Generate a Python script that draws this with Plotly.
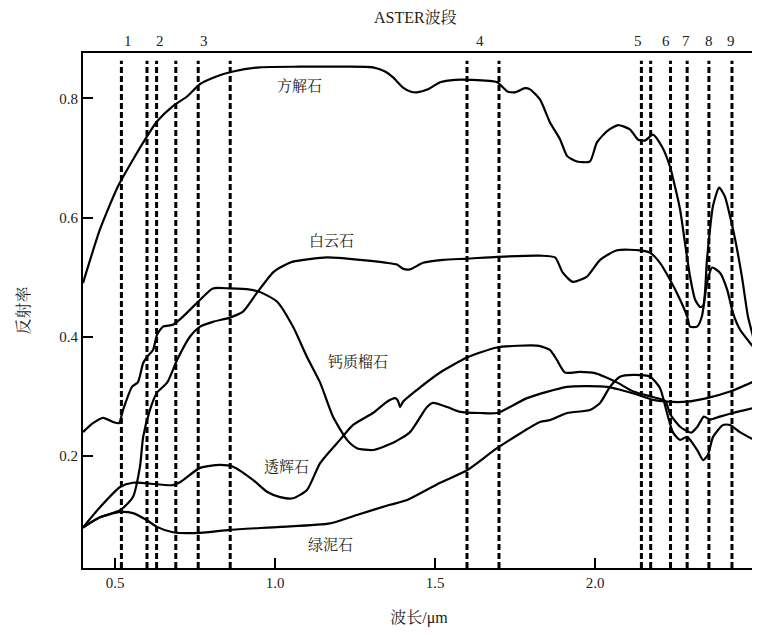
import plotly.graph_objects as go

# ---- data ----
calcite_x = [0.40, 0.453, 0.509, 0.556, 0.600, 0.631, 0.681, 0.725, 0.766, 0.819, 0.869, 0.953,
             1.078, 1.203, 1.306, 1.344, 1.369, 1.40, 1.425, 1.444, 1.478, 1.516, 1.563, 1.609,
             1.694, 1.725, 1.75, 1.781, 1.797, 1.828, 1.859, 1.891, 1.913, 1.944, 1.984, 2.006,
             2.038, 2.072, 2.109, 2.134, 2.156, 2.181, 2.209, 2.234, 2.25, 2.266, 2.281, 2.297,
             2.313, 2.328, 2.338, 2.35, 2.369, 2.388, 2.406, 2.422, 2.438, 2.459, 2.478, 2.494, 2.5]
calcite_y = [0.49, 0.58, 0.652, 0.697, 0.736, 0.761, 0.787, 0.803, 0.824, 0.837, 0.845, 0.852,
             0.853, 0.853, 0.852, 0.845, 0.835, 0.818, 0.811, 0.810, 0.815, 0.827, 0.831, 0.831,
             0.827, 0.812, 0.810, 0.817, 0.815, 0.798, 0.760, 0.731, 0.703, 0.694, 0.694, 0.726,
             0.745, 0.755, 0.748, 0.731, 0.729, 0.739, 0.719, 0.686, 0.652, 0.613, 0.558, 0.501,
             0.462, 0.450, 0.452, 0.530, 0.620, 0.650, 0.635, 0.602, 0.563, 0.501, 0.434, 0.40, 0.385]

dolomite_x = [0.40, 0.453, 0.516, 0.556, 0.578, 0.588, 0.609, 0.631, 0.663, 0.694, 0.734, 0.766,
              0.806, 0.859, 0.90, 0.944, 0.994, 1.016, 1.056, 1.163, 1.266, 1.35, 1.381, 1.40,
              1.422, 1.463, 1.525, 1.60, 1.694, 1.828, 1.875, 1.90, 1.931, 1.975, 2.016, 2.069,
              2.141, 2.172, 2.203, 2.234, 2.266, 2.288, 2.297, 2.319, 2.334, 2.35, 2.366, 2.391,
              2.413, 2.431, 2.453, 2.484, 2.5]
dolomite_y = [0.08, 0.097, 0.109, 0.131, 0.182, 0.232, 0.277, 0.306, 0.323, 0.361, 0.40, 0.417,
              0.425, 0.432, 0.442, 0.474, 0.508, 0.516, 0.526, 0.533, 0.529, 0.524, 0.521, 0.514,
              0.513, 0.524, 0.529, 0.531, 0.534, 0.536, 0.533, 0.507, 0.492, 0.501, 0.529, 0.545,
              0.545, 0.541, 0.524, 0.496, 0.462, 0.434, 0.417, 0.417, 0.434, 0.49, 0.516, 0.507,
              0.479, 0.44, 0.412, 0.39, 0.38]

garnet_x = [0.40, 0.431, 0.463, 0.494, 0.5125, 0.525, 0.553, 0.572, 0.588, 0.60, 0.619, 0.631,
            0.65, 0.681, 0.703, 0.734, 0.766, 0.806, 0.859, 0.922, 0.953, 1.006, 1.056, 1.10,
            1.141, 1.181, 1.225, 1.256, 1.306, 1.369, 1.422, 1.475, 1.494, 1.538, 1.578, 1.641,
            1.694, 1.788, 1.913, 2.038, 2.078, 2.131, 2.181, 2.225, 2.288, 2.35, 2.422, 2.5]
garnet_y = [0.240, 0.255, 0.264, 0.257, 0.255, 0.277, 0.316, 0.324, 0.356, 0.366, 0.378, 0.403,
            0.417, 0.420, 0.429, 0.445, 0.462, 0.481, 0.481, 0.479, 0.475, 0.459, 0.417, 0.366,
            0.323, 0.266, 0.227, 0.213, 0.210, 0.222, 0.240, 0.282, 0.289, 0.282, 0.274, 0.272,
            0.272, 0.297, 0.316, 0.316, 0.311, 0.303, 0.294, 0.291, 0.291, 0.297, 0.308, 0.326]

diopside_x = [0.40, 0.453, 0.516, 0.556, 0.681, 0.703, 0.766, 0.828, 0.869, 0.931, 0.975, 1.016,
              1.056, 1.10, 1.141, 1.203, 1.244, 1.306, 1.35, 1.375, 1.384, 1.391, 1.40, 1.444,
              1.516, 1.60, 1.694, 1.819, 1.859, 1.881, 1.906, 1.953, 2.0, 2.03, 2.07, 2.12, 2.18,
              2.22, 2.235, 2.266, 2.30, 2.32, 2.34, 2.36, 2.39, 2.43, 2.5]
diopside_y = [0.08, 0.114, 0.148, 0.155, 0.151, 0.156, 0.180, 0.185, 0.182, 0.160, 0.140, 0.131,
              0.129, 0.143, 0.188, 0.227, 0.252, 0.272, 0.291, 0.297, 0.293, 0.282, 0.291, 0.311,
              0.340, 0.365, 0.382, 0.385, 0.378, 0.361, 0.340, 0.341, 0.339, 0.333, 0.323, 0.308,
              0.299, 0.292, 0.270, 0.249, 0.239, 0.249, 0.266, 0.261, 0.266, 0.272, 0.281]

chlorite_x = [0.40, 0.453, 0.516, 0.556, 0.60, 0.631, 0.681, 0.766, 0.859, 1.016, 1.172, 1.256,
              1.359, 1.413, 1.516, 1.60, 1.694, 1.828, 1.859, 1.913, 1.984, 2.016, 2.047, 2.078,
              2.119, 2.172, 2.203, 2.225, 2.244, 2.266, 2.288, 2.319, 2.338, 2.353, 2.369, 2.40,
              2.422, 2.453, 2.5]
chlorite_y = [0.08, 0.097, 0.106, 0.104, 0.092, 0.081, 0.072, 0.071, 0.076, 0.081, 0.087, 0.101,
              0.118, 0.126, 0.155, 0.176, 0.213, 0.257, 0.260, 0.272, 0.277, 0.289, 0.316, 0.333,
              0.336, 0.333, 0.314, 0.272, 0.239, 0.227, 0.232, 0.210, 0.193, 0.202, 0.232, 0.252,
              0.252, 0.240, 0.226]

band_edges = [0.52, 0.60, 0.63, 0.69, 0.76, 0.86, 1.60, 1.70, 2.145, 2.174, 2.236, 2.288, 2.356, 2.428]
band_labels = ["1", "2", "3", "4", "5", "6", "7", "8", "9"]
band_label_x = [0.541, 0.641, 0.778, 1.64, 2.134, 2.222, 2.284, 2.356, 2.425]

curves = [
    ("方解石", calcite_x, calcite_y, 1.078, 0.82),
    ("白云石", dolomite_x, dolomite_y, 1.178, 0.56),
    ("钙质榴石", garnet_x, garnet_y, 1.26, 0.358),
    ("透辉石", diopside_x, diopside_y, 1.037, 0.182),
    ("绿泥石", chlorite_x, chlorite_y, 1.172, 0.05),
]

FONT = "Liberation Serif, Noto Serif CJK SC, Noto Sans CJK SC, serif"

fig = go.Figure()

for name, xs, ys, lx, ly in curves:
    fig.add_trace(go.Scatter(x=xs, y=ys, mode="lines", name=name,
                             line=dict(color="black", width=2.2, shape="spline", smoothing=0.6),
                             showlegend=False, hoverinfo="skip"))
    fig.add_annotation(x=lx, y=ly, text=name, showarrow=False,
                       font=dict(family=FONT, size=15, color="#222"))

for bx in band_edges:
    fig.add_shape(type="line", xref="x", yref="paper", x0=bx, x1=bx, y0=0, y1=0.985,
                  line=dict(color="black", width=3, dash="6px,3px"))

for lab, lx in zip(band_labels, band_label_x):
    fig.add_annotation(x=lx, y=1.0, xref="x", yref="paper", yanchor="bottom", yshift=2,
                       text=lab, showarrow=False,
                       font=dict(family=FONT, size=15, color="#222"))

fig.add_annotation(x=(415 - 83) / 672, y=1.0, xref="paper", yref="paper", yanchor="bottom", yshift=25,
                   text="ASTER波段", showarrow=False,
                   font=dict(family=FONT, size=16, color="#222"))

fig.update_layout(
    width=752, height=628,
    margin=dict(l=75, r=5, t=45, b=68, autoexpand=False),
    paper_bgcolor="white", plot_bgcolor="white",
    font=dict(family=FONT, size=15, color="#222"),
)
fig.update_xaxes(range=[0.4, 2.5], tickvals=[0.5, 1.0, 1.5, 2.0, 2.5],
                 ticktext=["0.5", "1.0", "1.5", "2.0", "2.5"],
                 ticks="inside", ticklen=10, tickwidth=2, tickcolor="black",
                 showline=True, linecolor="black", linewidth=2, mirror=True,
                 showgrid=False, zeroline=False, automargin=False,
                 title=dict(text="波长/μm", standoff=22, font=dict(size=16)))
fig.update_yaxes(range=[0.012, 0.876], tickvals=[0.2, 0.4, 0.6, 0.8],
                 ticktext=["0.2", "0.4", "0.6", "0.8"],
                 ticks="inside", ticklen=10, tickwidth=2, tickcolor="black",
                 showline=True, linecolor="black", linewidth=2, mirror=True,
                 showgrid=False, zeroline=False, automargin=False,
                 title=dict(text="反射率", standoff=26, font=dict(size=16)))

fig.write_html("out.html")
